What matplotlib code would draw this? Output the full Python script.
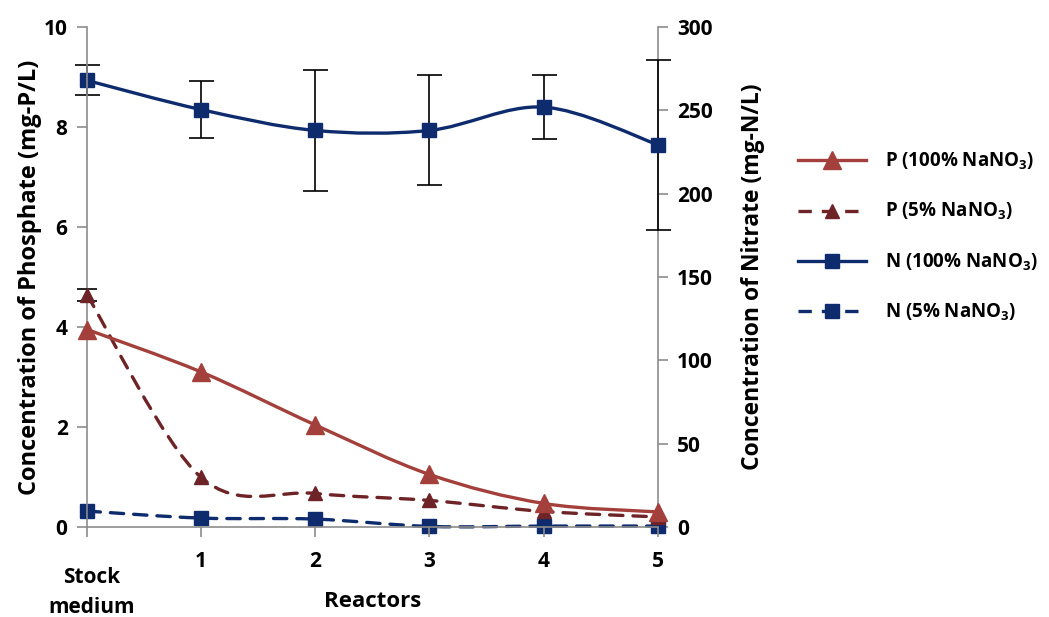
import matplotlib
matplotlib.use('Agg')

import matplotlib.pyplot as plt
from matplotlib.path import Path
from matplotlib.patches import PathPatch
from matplotlib.lines import Line2D
import numpy as np

plt.rcParams['font.family'] = ['Open Sans', 'DejaVu Sans']
plt.rcParams['font.weight'] = 'bold'
plt.rcParams['mathtext.fontset'] = 'custom'
plt.rcParams['mathtext.rm'] = 'Open Sans:bold'
plt.rcParams['mathtext.bf'] = 'Open Sans:bold'

reactors = [0, 1, 2, 3, 4, 5]
tick_labels = ['', '1', '2', '3', '4', '5']

# phosphate (mg-P/L), left axis
p_100 = [3.95, 3.10, 2.04, 1.05, 0.47, 0.30]
p_5 = [4.64, 0.99, 0.67, 0.53, 0.31, 0.20]
p_5_err = [0.12, 0, 0, 0, 0, 0]

# nitrate (mg-N/L), right axis
n_100 = [268, 250.5, 238, 238, 252, 229.5]
n_100_err = [9, 17, 36.5, 33, 19, 51]
n_5 = [9.5, 5.3, 4.7, 0.3, 0.5, 0.5]

red = '#A4403B'
maroon = '#6E2327'
navy = '#0E2B6E'


def smooth_path(xs, ys):
    # smoothed line like excel: catmull-rom turned into bezier segments
    pts = np.column_stack([xs, ys]).astype(float)
    verts = [pts[0]]
    codes = [Path.MOVETO]
    n = len(pts)
    for i in range(n - 1):
        p0 = pts[i - 1] if i > 0 else pts[i]
        p1 = pts[i]
        p2 = pts[i + 1]
        p3 = pts[i + 2] if i + 2 < n else pts[i + 1]
        c1 = p1 + (p2 - p0) / 6.0
        c2 = p2 - (p3 - p1) / 6.0
        verts += [c1, c2, p2]
        codes += [Path.CURVE4] * 3
    return Path(verts, codes)


def draw_series(ax, xs, ys, color, ls, marker, ms, z):
    patch = PathPatch(smooth_path(xs, ys), facecolor='none', edgecolor=color,
                      lw=2.4, linestyle=ls, capstyle='round', zorder=z)
    ax.add_patch(patch)
    ax.plot(xs, ys, linestyle='none', marker=marker, ms=ms, color=color,
            mec=color, zorder=z + 0.5)


fig = plt.figure(figsize=(10.49, 6.17), dpi=100)
ax = fig.add_axes([0.083, 0.146, 0.544, 0.81])
ax2 = ax.twinx()

# only points with a real error get a bar
has_err = [i for i in range(len(reactors)) if p_5_err[i] > 0]
ax.errorbar([reactors[i] for i in has_err], [p_5[i] for i in has_err],
            yerr=[p_5_err[i] for i in has_err], fmt='none', ecolor='black',
            elinewidth=1.2, capsize=7, capthick=1.2, zorder=3)
draw_series(ax, reactors, p_5, maroon, (0, (4, 3)), '^', 10, 4)
draw_series(ax, reactors, p_100, red, '-', '^', 13, 5)

ax2.errorbar(reactors, n_100, yerr=n_100_err, fmt='none', ecolor='black',
             elinewidth=1.2, capsize=9, capthick=1.2, zorder=3)
draw_series(ax2, reactors, n_5, navy, (0, (4, 3)), 's', 10.5, 4)
draw_series(ax2, reactors, n_100, navy, '-', 's', 10.5, 5)

ax.set_xlim(0, 5)
ax.set_ylim(0, 10)
ax2.set_ylim(0, 300)
ax.set_xticks(reactors)
ax.set_xticklabels(tick_labels)
ax.set_yticks([0, 2, 4, 6, 8, 10])
ax2.set_yticks([0, 50, 100, 150, 200, 250, 300])

for a in (ax, ax2):
    for s in a.spines.values():
        s.set_color('#8C8C8C')
        s.set_linewidth(1.2)
    a.spines['top'].set_visible(False)
    a.tick_params(colors='#8C8C8C', labelcolor='black', labelsize=15,
                  width=1.2, length=7, pad=7)
ax2.spines['left'].set_visible(False)
ax.spines['right'].set_visible(False)
ax2.spines['bottom'].set_visible(False)
ax.set_zorder(2)
ax.patch.set_visible(False)
ax.tick_params(axis='x', pad=10)

ax.text(0.04, -1.32, 'Stock\nmedium', ha='center', va='center', fontsize=15,
        fontweight='bold', linespacing=1.55)
ax.set_xlabel('Reactors', fontsize=16, fontweight='bold', labelpad=14)
ax.set_ylabel('Concentration of Phosphate (mg-P/L)', fontsize=17,
              fontweight='bold', labelpad=1)
ax2.set_ylabel('Concentration of Nitrate (mg-N/L)', fontsize=16.5,
               fontweight='bold', labelpad=20)

for a in (ax, ax2):
    for c in a.patches + a.lines + a.collections:
        c.set_clip_on(False)

handles = [
    Line2D([], [], color=red, lw=2.4, marker='^', ms=13),
    Line2D([], [], color=maroon, lw=2.4, ls=(0, (4, 3)), marker='^', ms=10),
    Line2D([], [], color=navy, lw=2.4, marker='s', ms=10.5),
    Line2D([], [], color=navy, lw=2.4, ls=(0, (4, 3)), marker='s', ms=10.5),
]
labels = [r'P (100% NaNO$_\mathbf{3}$)', r'P (5% NaNO$_\mathbf{3}$)',
          r'N (100% NaNO$_\mathbf{3}$)', r'N (5% NaNO$_\mathbf{3}$)']
fig.legend(handles, labels, loc='center left', bbox_to_anchor=(0.745, 0.616),
           frameon=False, fontsize=13.5, handlelength=3.6, labelspacing=1.55,
           handletextpad=1.0)

fig.savefig('out.png', dpi=100)
